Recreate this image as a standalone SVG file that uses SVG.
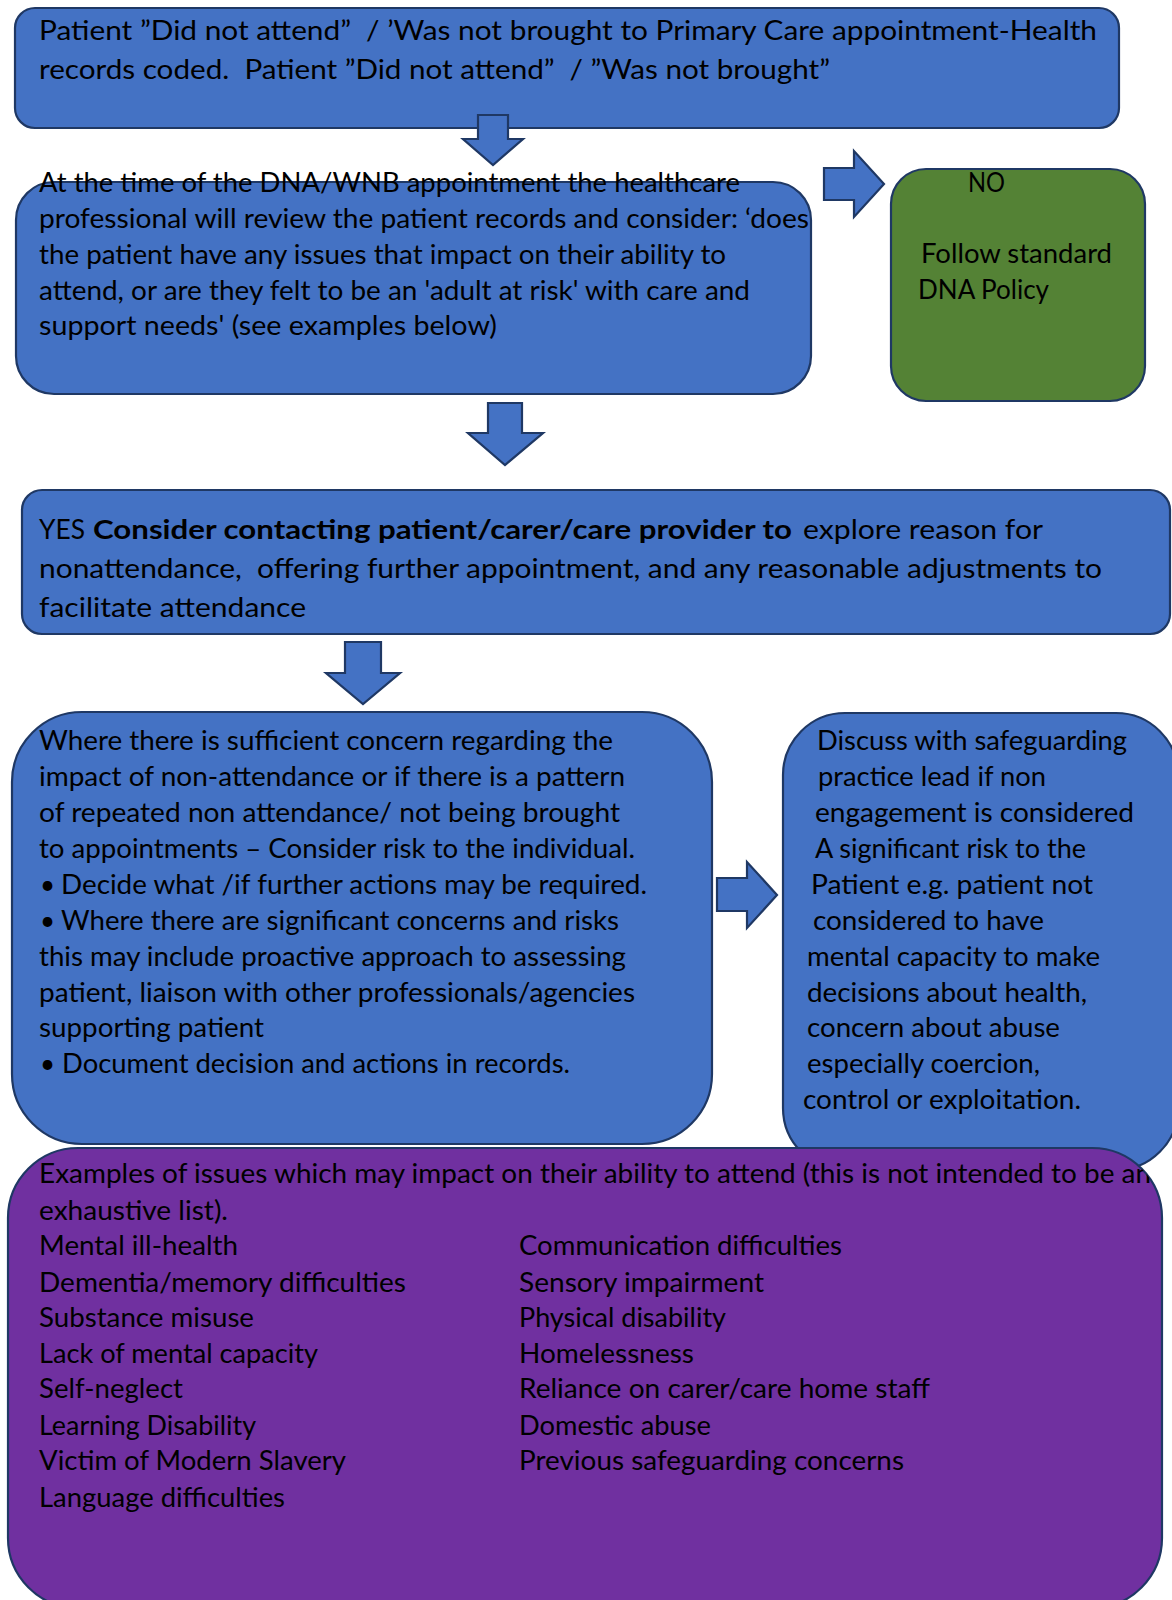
<svg xmlns="http://www.w3.org/2000/svg" width="1172" height="1600" viewBox="0 0 1172 1600">
  <style>
    .box { stroke: #1f3864; stroke-width: 2.2; }
    .blue { fill: #4472c4; }
    .green { fill: #548235; }
    .purple { fill: #7030a0; }
    .arrow { fill: #4472c4; stroke: #1f3864; stroke-width: 2.2; stroke-linejoin: miter; }
    text { font-family: "Lato", "Liberation Sans", sans-serif; font-size: 26px; fill: #000; white-space: pre; }
    .b { font-weight: bold; }
  </style>
  <defs>
    <clipPath id="purpleClip">
      <rect x="8" y="1148" width="1154" height="460" rx="70" ry="70"/>
    </clipPath>
  </defs>

  <rect width="1172" height="1600" fill="#ffffff"/>

  <!-- Top: appointment missed -->
  <g id="node-dna">
    <rect class="box blue" x="15" y="8" width="1104" height="120" rx="20" ry="20"/>
    <text x="39" y="40" textLength="1058" lengthAdjust="spacingAndGlyphs" xml:space="preserve">Patient ”Did not attend”  / ’Was not brought to Primary Care appointment-Health</text>
    <text x="39" y="79" textLength="791" lengthAdjust="spacingAndGlyphs" xml:space="preserve">records coded.  Patient ”Did not attend”  / ”Was not brought”</text>
  </g>

  <!-- Review of records -->
  <g id="node-review">
    <rect class="box blue" x="16" y="182" width="795" height="212" rx="38" ry="38"/>
    <text x="39" y="192" textLength="701" lengthAdjust="spacingAndGlyphs">At the time of the DNA/WNB appointment the healthcare</text>
    <text x="39" y="228" textLength="770" lengthAdjust="spacingAndGlyphs">professional will review the patient records and consider: ‘does</text>
    <text x="39" y="264" textLength="687" lengthAdjust="spacingAndGlyphs">the patient have any issues that impact on their ability to</text>
    <text x="39" y="300" textLength="711" lengthAdjust="spacingAndGlyphs">attend, or are they felt to be an 'adult at risk' with care and</text>
    <text x="39" y="335" textLength="458" lengthAdjust="spacingAndGlyphs">support needs' (see examples below)</text>
  </g>

  <!-- NO branch -->
  <g id="node-no">
    <rect class="box green" x="891" y="169" width="254" height="232" rx="35" ry="35"/>
    <text x="968" y="192" textLength="37" lengthAdjust="spacingAndGlyphs">NO</text>
    <text x="921" y="263" textLength="191" lengthAdjust="spacingAndGlyphs">Follow standard</text>
    <text x="918" y="299" textLength="131" lengthAdjust="spacingAndGlyphs">DNA Policy</text>
  </g>

  <!-- YES branch -->
  <g id="node-yes">
    <rect class="box blue" x="22" y="490" width="1148" height="144" rx="20" ry="20"/>
    <text x="39" y="539" textLength="46" lengthAdjust="spacingAndGlyphs">YES</text>
    <text class="b" x="93" y="539" textLength="699" lengthAdjust="spacingAndGlyphs">Consider contacting patient/carer/care provider to</text>
    <text x="803" y="539" textLength="240" lengthAdjust="spacingAndGlyphs">explore reason for</text>
    <text x="39" y="578" textLength="1063" lengthAdjust="spacingAndGlyphs" xml:space="preserve">nonattendance,  offering further appointment, and any reasonable adjustments to</text>
    <text x="39" y="617" textLength="267" lengthAdjust="spacingAndGlyphs">facilitate attendance</text>
  </g>

  <!-- Sufficient concern -->
  <g id="node-concern">
    <rect class="box blue" x="12" y="712" width="700" height="432" rx="70" ry="70"/>
    <text x="39" y="750" textLength="574" lengthAdjust="spacingAndGlyphs">Where there is sufficient concern regarding the</text>
    <text x="39" y="786" textLength="586" lengthAdjust="spacingAndGlyphs">impact of non-attendance or if there is a pattern</text>
    <text x="39" y="822" textLength="581" lengthAdjust="spacingAndGlyphs">of repeated non attendance/ not being brought</text>
    <text x="39" y="858" textLength="596" lengthAdjust="spacingAndGlyphs">to appointments – Consider risk to the individual.</text>
    <text x="40" y="894">•</text>
    <text x="61" y="894" textLength="586" lengthAdjust="spacingAndGlyphs">Decide what /if further actions may be required.</text>
    <text x="40" y="930">•</text>
    <text x="61" y="930" textLength="558" lengthAdjust="spacingAndGlyphs">Where there are significant concerns and risks</text>
    <text x="39" y="966" textLength="587" lengthAdjust="spacingAndGlyphs">this may include proactive approach to assessing</text>
    <text x="39" y="1002" textLength="596" lengthAdjust="spacingAndGlyphs">patient, liaison with other professionals/agencies</text>
    <text x="39" y="1037" textLength="225" lengthAdjust="spacingAndGlyphs">supporting patient</text>
    <text x="40" y="1073">•</text>
    <text x="62" y="1073" textLength="508" lengthAdjust="spacingAndGlyphs">Document decision and actions in records.</text>
  </g>

  <!-- Safeguarding lead -->
  <g id="node-safeguarding">
    <rect class="box blue" x="783" y="713" width="395" height="457" rx="62" ry="62"/>
    <text x="817" y="750" textLength="310" lengthAdjust="spacingAndGlyphs">Discuss with safeguarding</text>
    <text x="818" y="786" textLength="228" lengthAdjust="spacingAndGlyphs">practice lead if non</text>
    <text x="815" y="822" textLength="319" lengthAdjust="spacingAndGlyphs">engagement is considered</text>
    <text x="815" y="858" textLength="271" lengthAdjust="spacingAndGlyphs">A significant risk to the</text>
    <text x="811" y="894" textLength="282" lengthAdjust="spacingAndGlyphs">Patient e.g. patient not</text>
    <text x="813" y="930" textLength="231" lengthAdjust="spacingAndGlyphs">considered to have</text>
    <text x="807" y="966" textLength="293" lengthAdjust="spacingAndGlyphs">mental capacity to make</text>
    <text x="807" y="1002" textLength="280" lengthAdjust="spacingAndGlyphs">decisions about health,</text>
    <text x="807" y="1037" textLength="253" lengthAdjust="spacingAndGlyphs">concern about abuse</text>
    <text x="807" y="1073" textLength="233" lengthAdjust="spacingAndGlyphs">especially coercion,</text>
    <text x="803" y="1109" textLength="278" lengthAdjust="spacingAndGlyphs">control or exploitation.</text>
  </g>

  <!-- Examples of issues -->
  <g id="node-examples">
    <rect class="box purple" x="8" y="1148" width="1154" height="460" rx="70" ry="70"/>
    <g clip-path="url(#purpleClip)">
      <text x="39" y="1183" textLength="1112" lengthAdjust="spacingAndGlyphs">Examples of issues which may impact on their ability to attend (this is not intended to be an</text>
    </g>
    <text x="39" y="1220" textLength="189" lengthAdjust="spacingAndGlyphs">exhaustive list).</text>
    <text x="39" y="1255" textLength="199" lengthAdjust="spacingAndGlyphs">Mental ill-health</text>
    <text x="39" y="1292" textLength="367" lengthAdjust="spacingAndGlyphs">Dementia/memory difficulties</text>
    <text x="39" y="1327" textLength="215" lengthAdjust="spacingAndGlyphs">Substance misuse</text>
    <text x="39" y="1363" textLength="279" lengthAdjust="spacingAndGlyphs">Lack of mental capacity</text>
    <text x="39" y="1398" textLength="144" lengthAdjust="spacingAndGlyphs">Self-neglect</text>
    <text x="39" y="1435" textLength="217" lengthAdjust="spacingAndGlyphs">Learning Disability</text>
    <text x="39" y="1470" textLength="307" lengthAdjust="spacingAndGlyphs">Victim of Modern Slavery</text>
    <text x="39" y="1507" textLength="246" lengthAdjust="spacingAndGlyphs">Language difficulties</text>
    <text x="519" y="1255" textLength="323" lengthAdjust="spacingAndGlyphs">Communication difficulties</text>
    <text x="519" y="1292" textLength="245" lengthAdjust="spacingAndGlyphs">Sensory impairment</text>
    <text x="519" y="1327" textLength="207" lengthAdjust="spacingAndGlyphs">Physical disability</text>
    <text x="519" y="1363" textLength="175" lengthAdjust="spacingAndGlyphs">Homelessness</text>
    <text x="519" y="1398" textLength="411" lengthAdjust="spacingAndGlyphs">Reliance on carer/care home staff</text>
    <text x="519" y="1435" textLength="192" lengthAdjust="spacingAndGlyphs">Domestic abuse</text>
    <text x="519" y="1470" textLength="385" lengthAdjust="spacingAndGlyphs">Previous safeguarding concerns</text>
  </g>

  <!-- Block arrows between steps -->
  <g id="connectors">
    <polygon class="arrow" points="478,115 508,115 508,139 523,139 493,165 463,139 478,139"/>
    <polygon class="arrow" points="824,168 854,168 854,151 884,184 854,217 854,200 824,200"/>
    <polygon class="arrow" points="488,403 522,403 522,433 543,433 505,465 468,433 488,433"/>
    <polygon class="arrow" points="345,642 381,642 381,673 400,673 363,704 326,673 345,673"/>
    <polygon class="arrow" points="717,878 747,878 747,862 777,895 747,928 747,911 717,911"/>
  </g>
</svg>
